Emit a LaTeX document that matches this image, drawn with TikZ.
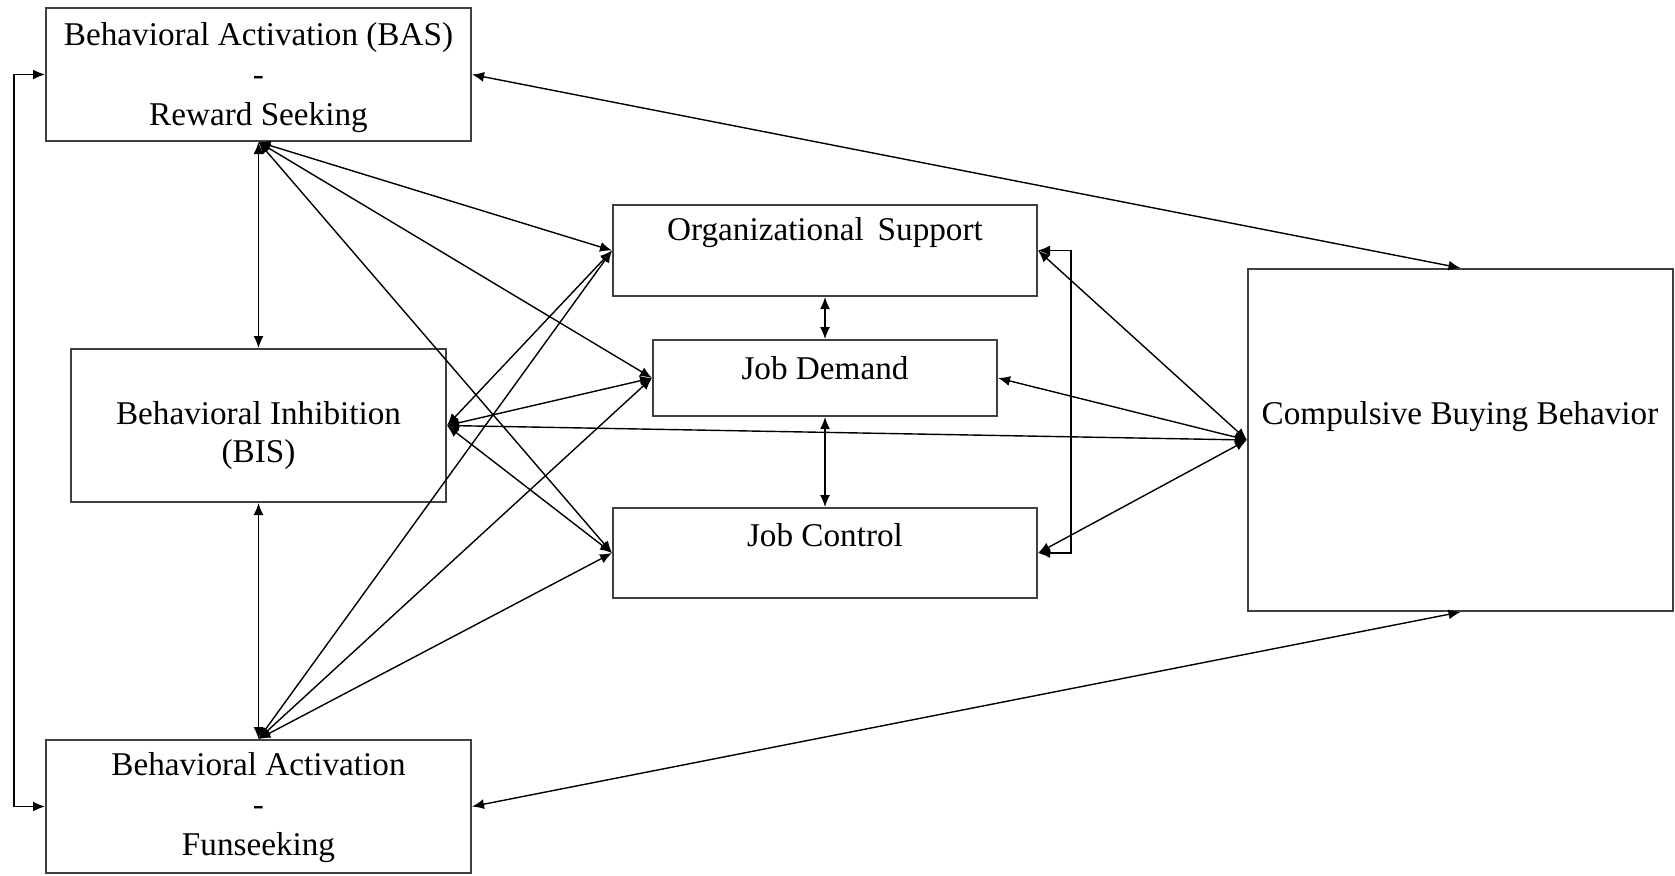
\documentclass[tikz,border=0pt]{standalone}
\usepackage{fontspec}
\setmainfont{Liberation Serif}
\usetikzlibrary{arrows.meta}
\begin{document}
\begin{tikzpicture}[x=0.5pt,y=-0.5pt,
  box/.style 2 args={draw=black!75, line width=1pt, inner sep=0pt, minimum width=#1*0.5pt, minimum height=#2*0.5pt},
  lbl/.style={align=center, inner sep=0pt, font=\fontsize{16.6}{20}\selectfont},
  conn/.style={line width=0.7pt, black, <->, >={Latex[length=6pt,width=5pt]}}
]
\useasboundingbox (0,0) rectangle (1675,875);
% boxes
\node[box={425}{133}] (bas) at (258.5,74.5) {};
\node[box={375}{153}] (bis) at (258.5,425.5) {};
\node[box={425}{133}] (fun) at (258.5,806.5) {};
\node[box={424}{91}] (org) at (825,250.5) {};
\node[box={344}{76}] (jd) at (825,378) {};
\node[box={424}{90}] (jc) at (825,553) {};
\node[box={425}{342}] (cbb) at (1460.5,440) {};
% texts
\node[lbl] (bast) at (258.5,77.5) {Behavioral Activation (BAS)\\-\\Reward Seeking};
\node[lbl, font=\fontsize{16.6}{19}\selectfont] (bist) at (258.5,436) {Behavioral Inhibition\\(BIS)};
\node[lbl] (funt) at (258.5,808) {Behavioral Activation\\-\\Funseeking};
\node[lbl] (orgt) at (825,233) {Organizational\, Support};
\node[lbl] (jdt) at (825,368) {Job Demand};
\node[lbl] (jct) at (825,535) {Job Control};
\node[lbl] (cbbt) at (1460,417) {Compulsive Buying Behavior};
% connectors
\draw[conn] (bas.south) -- (bis.north);
\draw[conn] (bis.south) -- (fun.north);
\draw[conn] (bas.south) -- (org.west);
\draw[conn] (bas.south) -- (jd.west);
\draw[conn] (bas.south) -- (jc.west);
\draw[conn] (bis.east) -- (org.west);
\draw[conn] (bis.east) -- (jd.west);
\draw[conn] (bis.east) -- (jc.west);
\draw[conn] (bis.east) -- (cbb.west);
\draw[conn] (fun.north) -- (org.west);
\draw[conn] (fun.north) -- (jd.west);
\draw[conn] (fun.north) -- (jc.west);
\draw[conn] (org.south) -- (jd.north);
\draw[conn] (jd.south) -- (jc.north);
\draw[conn] (org.east) -- (cbb.west);
\draw[conn] (jd.east) -- (cbb.west);
\draw[conn] (jc.east) -- (cbb.west);
\draw[conn] (org.east) -- ++(33,0) |- (jc.east);
\draw[conn] (bas.east) -- (cbb.north);
\draw[conn] (fun.east) -- (cbb.south);
\draw[conn] (bas.west) -- ++(-31,0) |- (fun.west);
\end{tikzpicture}
\end{document}
